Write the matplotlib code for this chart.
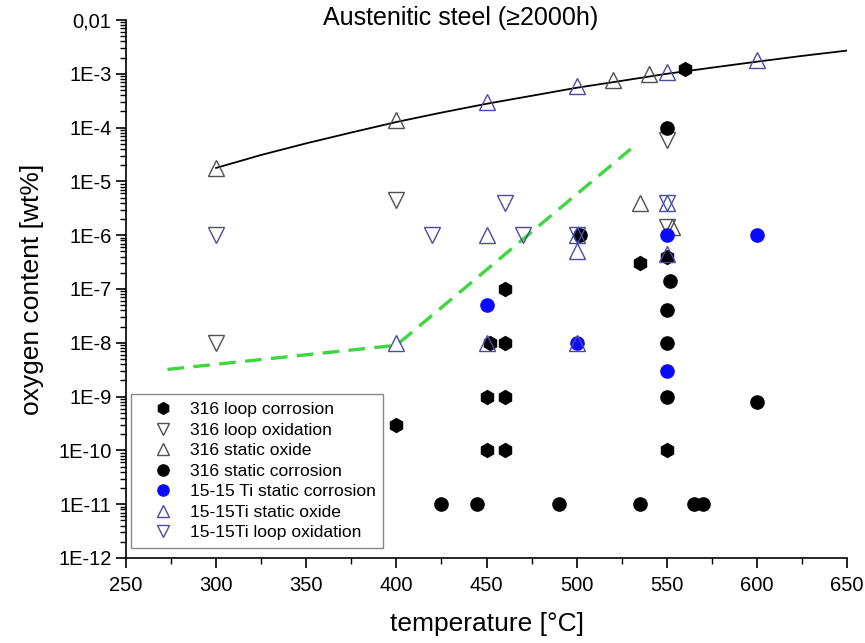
import matplotlib.pyplot as plt
import numpy as np
from matplotlib.ticker import FixedLocator, FuncFormatter, LogLocator, MultipleLocator, NullFormatter

plt.rcParams['font.family'] = ['Liberation Sans', 'DejaVu Sans']

# Measured oxygen contents, grouped by steel / test type
loop_corr_316_T = [560, 535, 550, 460, 452, 460, 450, 460, 450, 460, 400, 550]
loop_corr_316_O = [1.25e-3, 3e-7, 4e-7, 1e-7, 1e-8, 1e-8, 1e-9, 1e-9, 1e-10, 1e-10, 3e-10, 1e-10]

loop_ox_316_T = [300, 400, 550, 550]
loop_ox_316_O = [1e-8, 4.5e-6, 6e-5, 1.4e-6]

static_ox_316_T = [300, 400, 520, 540, 535, 553]
static_ox_316_O = [1.8e-5, 1.4e-4, 7.8e-4, 9.8e-4, 4e-6, 1.4e-6]

static_corr_316_T = [550, 502, 552, 550, 550, 550, 600, 425, 445, 490, 535, 565, 570]
static_corr_316_O = [1e-4, 1e-6, 1.4e-7, 4e-8, 1e-8, 1e-9, 8e-10, 1e-11, 1e-11, 1e-11, 1e-11, 1e-11, 1e-11]

static_corr_ti_T = [450, 500, 550, 600, 550]
static_corr_ti_O = [5e-8, 1e-8, 1e-6, 1e-6, 3e-9]

static_ox_ti_T = [450, 500, 550, 600, 450, 500, 500, 550, 550, 400, 450, 500]
static_ox_ti_O = [3e-4, 6e-4, 1.1e-3, 1.8e-3, 1e-6, 1e-6, 5e-7, 4e-6, 4.5e-7, 1e-8, 1e-8, 1e-8]

loop_ox_ti_T = [300, 420, 460, 470, 500, 550]
loop_ox_ti_O = [1e-6, 1e-6, 4e-6, 1e-6, 1e-6, 4e-6]

# Oxide formation limit (solid) and corrosion boundary (dashed)
limit_T = [300, 325, 350, 375, 400, 425, 450, 475, 500, 525, 550, 575, 600, 625, 650]
limit_O = [1.78e-5, 3.1e-5, 5.1e-5, 8.1e-5, 1.27e-4, 1.9e-4, 2.77e-4, 3.9e-4, 5.5e-4, 7.4e-4,
           1.0e-3, 1.3e-3, 1.68e-3, 2.15e-3, 2.7e-3]
boundary_T = [273, 400, 530]
boundary_O = [3.2e-9, 9e-9, 4e-5]

ytick_vals = [1e-12, 1e-11, 1e-10, 1e-9, 1e-8, 1e-7, 1e-6, 1e-5, 1e-4, 1e-3, 1e-2]
ytick_text = ['1E-12', '1E-11', '1E-10', '1E-9', '1E-8', '1E-7', '1E-6', '1E-5', '1E-4', '1E-3', '0,01']

gray = '#505050'
slate = '#4b4ba5'

fig = plt.figure(figsize=(8.65, 6.43), dpi=100)
ax = fig.add_axes([126 / 865, 85 / 643, 721 / 865, 538 / 643])

ax.plot(limit_T, limit_O, color='black', lw=1.3, zorder=1)
ax.plot(boundary_T, boundary_O, color='#3fd63f', lw=2.4, dashes=(5, 2.8), zorder=1)

ax.plot(loop_corr_316_T, loop_corr_316_O, 'h', ms=10, color='black', ls='none',
        label='316 loop corrosion')
ax.plot(loop_ox_316_T, loop_ox_316_O, 'v', ms=11, mfc='none', mec=gray, mew=1.0, ls='none',
        label='316 loop oxidation')
ax.plot(static_ox_316_T, static_ox_316_O, '^', ms=11, mfc='none', mec=gray, mew=1.0, ls='none',
        label='316 static oxide')
ax.plot(static_corr_316_T, static_corr_316_O, 'o', ms=9.5, color='black', ls='none',
        label='316 static corrosion')
ax.plot(static_corr_ti_T, static_corr_ti_O, 'o', ms=9.5, color='#0a0aff', ls='none',
        label='15-15 Ti static corrosion')
ax.plot(static_ox_ti_T, static_ox_ti_O, '^', ms=11, mfc='none', mec=slate, mew=1.0, ls='none',
        label='15-15Ti static oxide')
ax.plot(loop_ox_ti_T, loop_ox_ti_O, 'v', ms=11, mfc='none', mec=slate, mew=1.0, ls='none',
        label='15-15Ti loop oxidation')

ax.set_xlim(250, 650)
ax.set_yscale('log')
ax.set_ylim(1e-12, 1e-2)

ax.xaxis.set_major_locator(MultipleLocator(50))
ax.xaxis.set_minor_locator(MultipleLocator(25))
ax.yaxis.set_major_locator(FixedLocator(ytick_vals))
ax.yaxis.set_major_formatter(FuncFormatter(lambda v, pos: ytick_text[int(round(np.log10(v))) + 12]))
ax.yaxis.set_minor_locator(LogLocator(base=10, subs=np.arange(2, 10), numticks=20))
ax.yaxis.set_minor_formatter(NullFormatter())

ax.tick_params(which='major', direction='out', length=7, width=1.2, labelsize=14.5)
ax.tick_params(which='minor', direction='out', length=4, width=1.0)
ax.tick_params(axis='x', pad=6)

for side in ['top', 'right']:
    ax.spines[side].set_visible(False)
for side in ['left', 'bottom']:
    ax.spines[side].set_linewidth(1.2)

ax.set_xlabel('temperature [°C]', fontsize=19, labelpad=12)
ax.set_ylabel('oxygen content [wt%]', fontsize=19, labelpad=10)
fig.text(0.532, 0.972, 'Austenitic steel (≥2000h)', fontsize=18, ha='center', va='center')

leg = ax.legend(loc='lower left', bbox_to_anchor=(131 / 865, 95 / 643), bbox_transform=fig.transFigure,
                borderaxespad=0, fontsize=12.6, labelspacing=0.3, handletextpad=0.1,
                handlelength=2.8, borderpad=0.45, markerscale=0.85, fancybox=False, framealpha=1)
leg.get_frame().set_edgecolor('#888888')
leg.get_frame().set_linewidth(1.0)

fig.savefig('out.png', dpi=100)
